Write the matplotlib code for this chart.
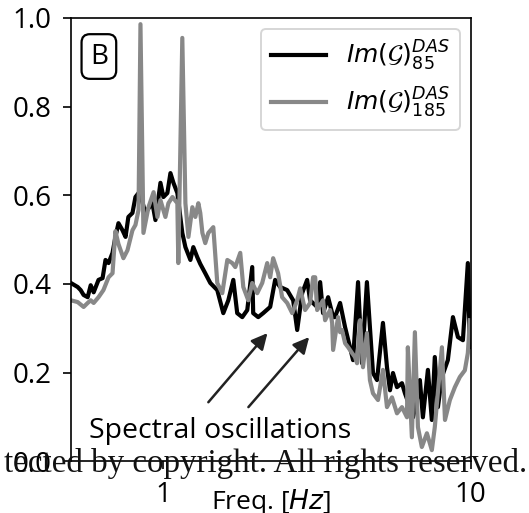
import numpy as np
import matplotlib
matplotlib.use("Agg")
import matplotlib.pyplot as plt

# --- spectral amplitude, channel 85 (black) ---
freq_85 = [0.500, 0.526, 0.538, 0.550, 0.567, 0.580, 0.593, 0.615, 0.634, 0.648,
           0.663, 0.683, 0.698, 0.714, 0.736, 0.753, 0.769, 0.793, 0.811, 0.830,
           0.842, 0.874, 0.887, 0.921, 0.942, 0.978, 1.000, 1.030, 1.054, 1.078,
           1.110, 1.152, 1.179, 1.224, 1.251, 1.289, 1.318, 1.368, 1.421, 1.497,
           1.566, 1.626, 1.688, 1.738, 1.805, 1.874, 1.945, 1.959, 2.034, 2.111,
           2.225, 2.309, 2.397, 2.527, 2.643, 2.724, 2.827, 2.935, 3.000, 3.163,
           3.235, 3.306, 3.434, 3.565, 3.616, 3.756, 3.900, 4.046, 4.139, 4.297,
           4.426, 4.592, 4.697, 4.806, 4.953, 5.178, 5.337, 5.458, 5.582, 5.752,
           5.971, 6.107, 6.338, 6.486, 6.677, 6.829, 6.984, 7.251, 7.468, 7.636,
           7.816, 8.054, 8.420, 8.747, 9.080, 9.425, 9.780, 9.930, 10.00]
amp_85 = [0.402, 0.393, 0.386, 0.375, 0.370, 0.397, 0.381, 0.409, 0.413, 0.454,
          0.447, 0.470, 0.506, 0.537, 0.521, 0.506, 0.551, 0.560, 0.596, 0.605,
          0.600, 0.560, 0.567, 0.582, 0.544, 0.628, 0.596, 0.605, 0.650, 0.628,
          0.605, 0.515, 0.483, 0.454, 0.483, 0.460, 0.445, 0.424, 0.402, 0.386,
          0.334, 0.363, 0.409, 0.334, 0.325, 0.341, 0.438, 0.334, 0.325, 0.334,
          0.348, 0.409, 0.393, 0.386, 0.363, 0.296, 0.379, 0.409, 0.363, 0.348,
          0.404, 0.334, 0.370, 0.325, 0.325, 0.357, 0.302, 0.257, 0.228, 0.404,
          0.221, 0.404, 0.302, 0.199, 0.183, 0.312, 0.212, 0.160, 0.199, 0.167,
          0.176, 0.153, 0.122, 0.099, 0.138, 0.183, 0.099, 0.206, 0.093, 0.235,
          0.122, 0.190, 0.228, 0.325, 0.280, 0.273, 0.447, 0.257, 0.330]

# --- spectral amplitude, channel 185 (grey) ---
freq_185 = [0.500, 0.526, 0.550, 0.567, 0.580, 0.593, 0.615, 0.638, 0.663, 0.683,
            0.698, 0.714, 0.741, 0.764, 0.793, 0.811, 0.830, 0.842, 0.861, 0.894,
            0.929, 0.956, 0.978, 1.015, 1.038, 1.070, 1.110, 1.118, 1.152, 1.179,
            1.206, 1.242, 1.270, 1.299, 1.318, 1.339, 1.368, 1.400, 1.453, 1.497,
            1.554, 1.614, 1.675, 1.713, 1.778, 1.819, 1.888, 1.945, 2.019, 2.096,
            2.176, 2.225, 2.275, 2.361, 2.433, 2.527, 2.624, 2.724, 2.786, 2.890,
            3.000, 3.069, 3.117, 3.163, 3.306, 3.357, 3.485, 3.539, 3.565, 3.700,
            3.756, 3.811, 3.900, 3.990, 4.108, 4.199, 4.265, 4.363, 4.459, 4.592,
            4.697, 4.806, 4.989, 5.178, 5.337, 5.541, 5.752, 5.971, 6.199, 6.240,
            6.431, 6.578, 6.729, 6.929, 7.197, 7.468, 7.636, 8.054, 8.241, 8.549,
            8.875, 9.212, 9.563, 9.780, 9.930]
amp_185 = [0.363, 0.359, 0.348, 0.357, 0.363, 0.357, 0.370, 0.386, 0.415, 0.424,
           0.519, 0.490, 0.458, 0.476, 0.521, 0.533, 0.567, 0.986, 0.515, 0.573,
           0.607, 0.551, 0.589, 0.551, 0.582, 0.596, 0.582, 0.447, 0.955, 0.582,
           0.506, 0.573, 0.551, 0.582, 0.560, 0.515, 0.492, 0.515, 0.528, 0.402,
           0.379, 0.454, 0.447, 0.438, 0.470, 0.393, 0.363, 0.402, 0.379, 0.402,
           0.447, 0.415, 0.458, 0.424, 0.370, 0.357, 0.334, 0.363, 0.390, 0.341,
           0.357, 0.415, 0.415, 0.341, 0.363, 0.318, 0.341, 0.312, 0.251, 0.325,
           0.291, 0.296, 0.266, 0.257, 0.244, 0.235, 0.221, 0.318, 0.212, 0.289,
           0.183, 0.153, 0.138, 0.206, 0.122, 0.144, 0.108, 0.122, 0.099, 0.257,
           0.054, 0.291, 0.077, 0.032, 0.063, 0.025, 0.077, 0.257, 0.093, 0.138,
           0.167, 0.190, 0.205, 0.244, 0.318]

# arrow heads / tails pointing at the oscillations (freq, amplitude)
arrow_heads = [(2.18, 0.289), (2.98, 0.280)]
arrow_tails = [(1.40, 0.133), (1.89, 0.122)]

plt.rcParams['font.family'] = ['Open Sans', 'DejaVu Sans']
plt.rcParams['mathtext.fontset'] = 'dejavusans'

fig = plt.figure(figsize=(5.29, 5.13), dpi=100)
ax = fig.add_axes([0.134, 0.101, 0.756, 0.864])

ax.plot(freq_85, amp_85, color='black', lw=3,
        label=r'$Im(\mathcal{G})_{85}^{DAS}$')
ax.plot(freq_185, amp_185, color='#888888', lw=3,
        label=r'$Im(\mathcal{G})_{185}^{DAS}$')

ax.set_xscale('log')
ax.set_xlim(0.5, 10)
ax.set_ylim(0, 1.0)
ax.set_yticks([0.0, 0.2, 0.4, 0.6, 0.8, 1.0])
ax.set_xticks([1, 10])
ax.set_xticklabels(['1', '10'])
ax.minorticks_off()
ax.tick_params(labelsize=20, length=6, width=1.2, pad=8)
for s in ax.spines.values():
    s.set_linewidth(1.2)

ax.set_xlabel(r'Freq. [$Hz$]', fontsize=19)
ax.xaxis.set_label_coords(0.5, -0.058)

leg = ax.legend(loc='upper right', fontsize=18, handlelength=2.2,
                borderaxespad=0.45)
leg.get_frame().set_linewidth(1.4)

ax.text(0.07, 0.913, 'B', transform=ax.transAxes, fontsize=20,
        ha='center', va='center',
        bbox=dict(boxstyle='round,pad=0.3', fc='white', ec='black', lw=1.6))

ax.text(1.53, 0.068, 'Spectral oscillations', fontsize=20.5,
        ha='center', va='center')
for head, tail in zip(arrow_heads, arrow_tails):
    ax.annotate('', xy=head, xytext=tail,
                arrowprops=dict(arrowstyle='-|>', color='#222222', lw=1.8,
                                mutation_scale=24, shrinkA=0, shrinkB=0))

fig.text(0.997, 0.079, 'tected by copyright. All rights reserved.',
         family=['Liberation Serif', 'DejaVu Serif'], fontsize=23.8,
         ha='right', va='baseline', color='#111111', zorder=10)

fig.savefig('out.png', dpi=100)
